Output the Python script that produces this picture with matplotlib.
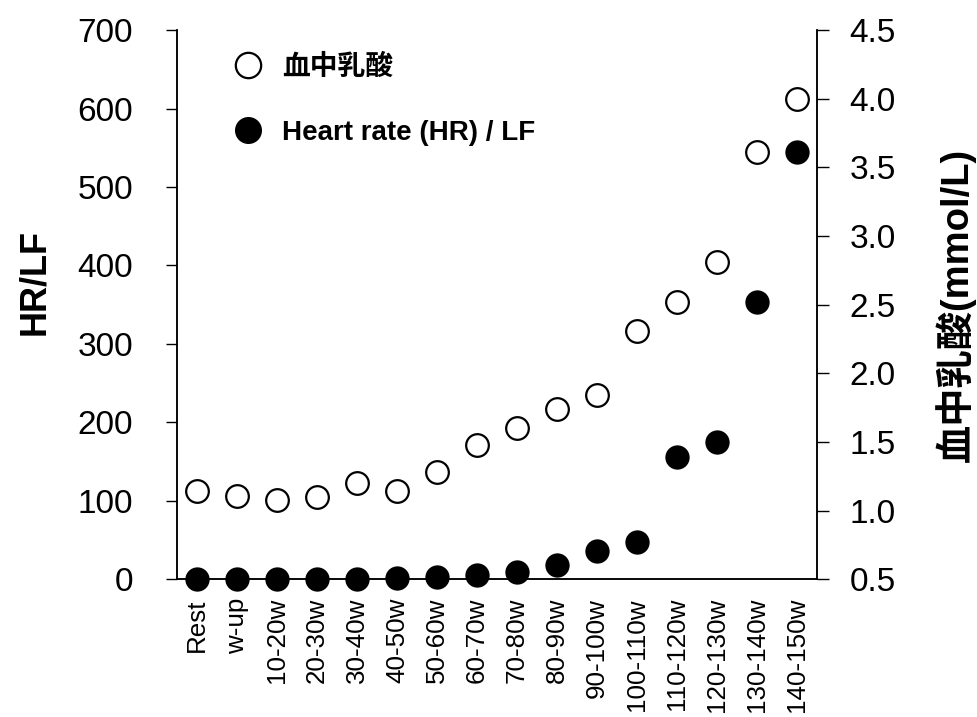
import matplotlib
matplotlib.use('Agg')
import matplotlib.pyplot as plt

plt.rcParams['font.family'] = ['Liberation Sans', 'Noto Sans CJK JP']

# ---- Data: workload stages, HR/LF ratio and blood lactate
stages = ['Rest', 'w-up', '10-20w', '20-30w', '30-40w', '40-50w', '50-60w', '60-70w',
          '70-80w', '80-90w', '90-100w', '100-110w', '110-120w', '120-130w',
          '130-140w', '140-150w']
hr_lf = [0, 0, 0, 0, 0, 2, 3, 5, 9, 18, 36, 48, 156, 175, 353, 545]
lactate = [1.14, 1.11, 1.08, 1.10, 1.20, 1.14, 1.28, 1.48, 1.60, 1.74, 1.84,
           2.31, 2.52, 2.81, 3.61, 4.00]

x = list(range(len(stages)))

fig = plt.figure(figsize=(9.78, 7.17), dpi=100)
ax = fig.add_axes([0.181, 0.192, 0.6544, 0.7661])
ax2 = ax.twinx()

# ---- HR/LF on the left axis (filled), lactate on the right axis (open)
hr_line, = ax.plot(x, hr_lf, 'o', ms=16.3, mfc='black', mec='black', mew=1.2,
                   clip_on=False, zorder=5, label='Heart rate (HR) / LF')
la_line, = ax2.plot(x, lactate, 'o', ms=16.3, mfc='white', mec='black', mew=1.6,
                    clip_on=False, zorder=5, label='血中乳酸')

ax.set_xlim(-0.5, 15.5)
ax.set_ylim(0, 700)
ax.set_yticks(range(0, 701, 100))
ax2.set_ylim(0.5, 4.5)
ax2.set_yticks([0.5, 1.0, 1.5, 2.0, 2.5, 3.0, 3.5, 4.0, 4.5])
ax2.set_yticklabels(['%.1f' % v for v in ax2.get_yticks()])

ax.set_xticks(x)
ax.set_xticklabels(stages, rotation=90, fontsize=18.7)
ax.tick_params(axis='x', length=0, pad=13.5)
ax.tick_params(axis='y', direction='out', length=7.8, width=1.0, labelsize=24, pad=24)
ax2.tick_params(axis='y', direction='out', length=8.5, width=1.0, labelsize=24, pad=15)

for a in (ax, ax2):
    a.spines['top'].set_visible(False)
    for s in ('left', 'right', 'bottom'):
        a.spines[s].set_linewidth(1.1)

ax.set_ylabel('HR/LF', fontsize=26, fontweight='bold')
ax.yaxis.set_label_coords(-0.195, 0.541)
ax2.set_ylabel('血中乳酸(mmol/L)', fontsize=27.5, fontweight='bold')
ax2.yaxis.set_label_coords(1.184, 0.5)

leg = ax2.legend(handles=[la_line, hr_line], loc='upper left',
                 bbox_to_anchor=(0.089, 0.956), frameon=False, borderpad=0,
                 borderaxespad=0, handlelength=1.0, handletextpad=0.72,
                 labelspacing=1.42, markerscale=1.12,
                 prop={'size': 20, 'weight': 'bold'})

plt.savefig('out.png', dpi=100)
